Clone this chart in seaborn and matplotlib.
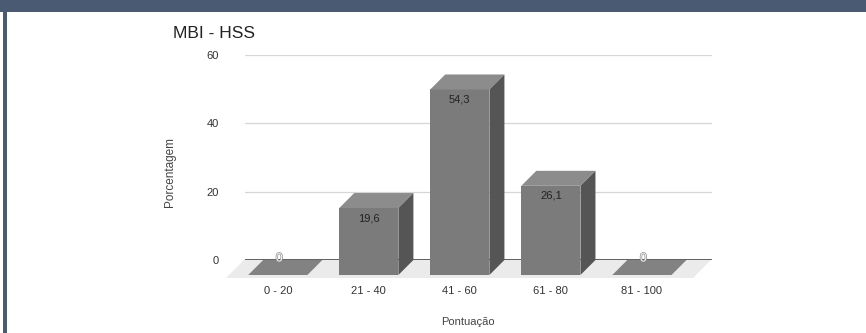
import pandas as pd
import seaborn as sns
import matplotlib.pyplot as plt
import matplotlib.patheffects as pe
from matplotlib.patches import Polygon, Rectangle

# dados do gráfico
faixas = ["0 - 20", "21 - 40", "41 - 60", "61 - 80", "81 - 100"]
porcentagem = [0, 19.6, 54.3, 26.1, 0]
rotulos = ["0", "19,6", "54,3", "26,1", "0"]

df = pd.DataFrame({"Pontuação": faixas, "Porcentagem": porcentagem})

sns.set_theme(style="white")
plt.rcParams['font.family'] = ['Liberation Sans', 'DejaVu Sans']

fig = plt.figure(figsize=(8.66, 3.33), dpi=100)
ax = fig.add_axes([245 / 866, 73 / 333, 467 / 866, 205 / 333])

sns.barplot(data=df, x="Pontuação", y="Porcentagem", color="#7b7b7b",
            saturation=1, width=0.65, ax=ax, zorder=3)
barras = list(ax.patches)

ax.set_xlim(-0.36, 4.77)
ax.set_ylim(0, 60)
ax.set_yticks([0, 20, 40, 60])
ax.yaxis.grid(True, color="#d6d6d6", lw=0.9)
ax.set_axisbelow(True)
for s in ax.spines.values():
    s.set_visible(False)
ax.tick_params(axis="both", length=0, labelsize=8, labelcolor="#333333")
ax.tick_params(axis="y", pad=19)
ax.tick_params(axis="x", pad=19)

ax.set_xlabel("Pontuação", fontsize=8, color="#444444")
ax.set_ylabel("Porcentagem", fontsize=8.5, color="#444444")
ax.xaxis.set_label_coords(0.4775, -0.278)
ax.yaxis.set_label_coords(-0.148, 0.43)

# deslocamento de profundidade (pixels -> dados)
inv = ax.transData.inverted()
px0, py0 = ax.transData.transform((0, 0))
dx = inv.transform((px0 + 15, py0))[0]
dy = inv.transform((px0, py0 + 15))[1]
fdx = inv.transform((px0 + 19, py0))[0]
fdy = inv.transform((px0, py0 + 18))[1]
px_x = inv.transform((px0 + 1, py0))[0]
px_y = inv.transform((px0, py0 + 1))[1]

# piso
x0, x1 = ax.get_xlim()
ax.add_patch(Polygon([(x0, 0.3), (x1, 0.3), (x1 - fdx, -fdy), (x0 - fdx, -fdy)],
                     color="#ebebeb", lw=0, clip_on=False, zorder=1))
ax.axhline(0, color="#3a3a3a", lw=1.1, zorder=2)

for b, valor, txt in zip(barras, porcentagem, rotulos):
    xl, w, h = b.get_x(), b.get_width(), b.get_height()
    b.set_y(-dy)
    b.set_clip_on(False)
    b.set_edgecolor("none")
    cor_topo = "#8c8c8c" if h > 0 else "#828282"
    ax.add_patch(Polygon([(xl, h - dy), (xl + w, h - dy), (xl + w + dx, h), (xl + dx, h)],
                         color=cor_topo, lw=0, clip_on=False, zorder=3))
    if h > 0:
        ax.add_patch(Polygon([(xl + w, -dy), (xl + w + dx, 0), (xl + w + dx, h), (xl + w, h - dy)],
                             color="#555555", lw=0, clip_on=False, zorder=3))
        ax.text(xl + w / 2, h - dy - 10 * px_y, txt, ha="center", va="center",
                fontsize=8, color="#222222", zorder=4)
    else:
        ax.text(xl + w / 2 + 1.5 * px_x, 1.5 * px_y, txt, ha="center", va="center",
                fontsize=9, color="#f4f4f4", zorder=4,
                path_effects=[pe.withStroke(linewidth=0.9, foreground="#8a8a8a")])

fig.text(173 / 866, 1 - 38 / 333, "MBI - HSS", fontsize=12.5, color="#222222", va="baseline")

# moldura escura
fig.add_artist(Rectangle((0, 1 - 12 / 333), 1, 12 / 333, transform=fig.transFigure,
                         color="#4a5a72", lw=0, zorder=0))
fig.add_artist(Rectangle((3 / 866, 0), 4 / 866, 1, transform=fig.transFigure,
                         color="#4a5a72", lw=0, zorder=0))

fig.savefig("out.png", dpi=100)
